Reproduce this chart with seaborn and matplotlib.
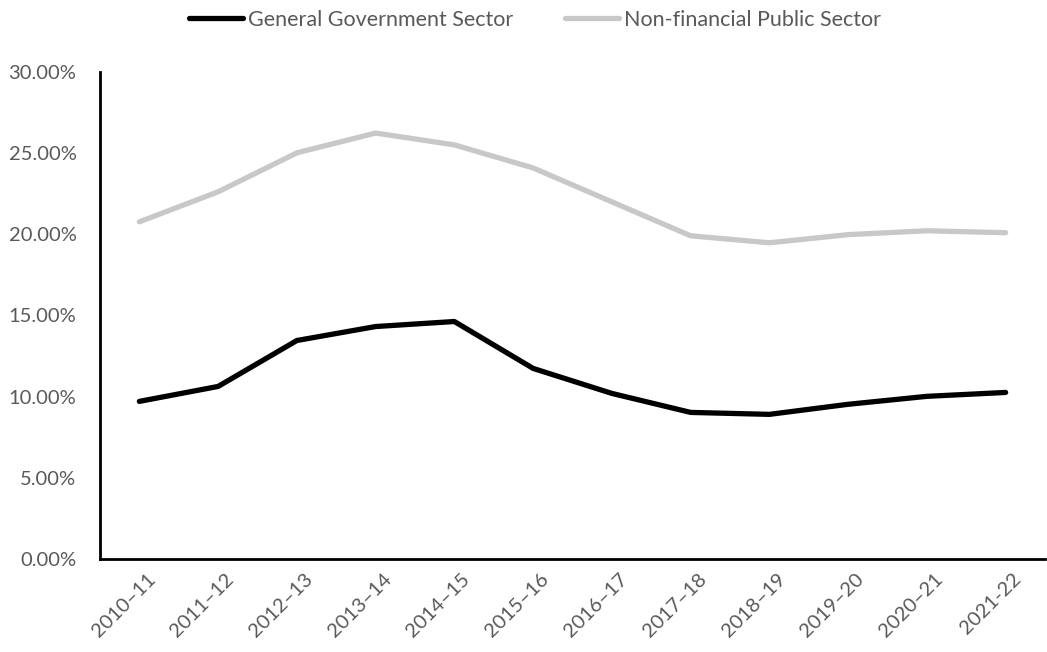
import matplotlib
matplotlib.use("Agg")
import matplotlib.pyplot as plt
import matplotlib.transforms as mtransforms
import seaborn as sns
import pandas as pd
from matplotlib.ticker import FuncFormatter

years = ["2010–11", "2011–12", "2012–13", "2013–14", "2014–15", "2015–16",
         "2016–17", "2017–18", "2018–19", "2019–20", "2020–21", "2021-22"]
general_gov = [9.71, 10.63, 13.46, 14.32, 14.63, 11.74, 10.20, 9.03, 8.91, 9.53, 10.02, 10.26]
non_fin_public = [20.77, 22.62, 25.02, 26.24, 25.51, 24.09, 22.00, 19.91, 19.48, 19.98, 20.22, 20.10]
series_names = ["General Government Sector", "Non-financial Public Sector"]

df = pd.DataFrame({
    "year": years * 2,
    "x": list(range(len(years))) * 2,
    "value": general_gov + non_fin_public,
    "series": [series_names[0]] * len(years) + [series_names[1]] * len(years),
})

sns.set_style("white")
plt.rcParams["font.family"] = ["Lato", "DejaVu Sans"]

fig = plt.figure(figsize=(10.47, 6.52), dpi=100)
ax = fig.add_axes([100 / 1047, 1 - 559 / 652, 945 / 1047, (559 - 72) / 652])

palette = {series_names[0]: "#000000", series_names[1]: "#C8C8C8"}
sns.lineplot(data=df, x="x", y="value", hue="series", palette=palette,
             linewidth=3.8, ax=ax, legend=True,
             solid_capstyle="round", solid_joinstyle="round")

ax.set_xlim(-0.5, len(years) - 0.5)
ax.set_ylim(0, 30)
ax.set_yticks([0, 5, 10, 15, 20, 25, 30])
ax.yaxis.set_major_formatter(FuncFormatter(lambda v, p: f"{v:.2f}%"))
ax.set_xticks(range(len(years)))
ax.set_xticklabels(years, rotation=45, ha="right", rotation_mode="anchor")
ax.tick_params(axis="both", labelsize=14.5, colors="#595959", length=0)
ax.tick_params(axis="x", pad=8)
ax.tick_params(axis="y", pad=17)
ax.set_xlabel("")
ax.set_ylabel("")

offset = mtransforms.ScaledTranslation(7 / 100, 0, fig.dpi_scale_trans)
for lbl in ax.get_xticklabels():
    lbl.set_transform(lbl.get_transform() + offset)

for s in ["top", "right"]:
    ax.spines[s].set_visible(False)
for s in ["left", "bottom"]:
    ax.spines[s].set_color("#000000")
    ax.spines[s].set_linewidth(2)

handles, labels = ax.get_legend_handles_labels()
ax.get_legend().remove()
fig.legend(handles, labels, loc="center", bbox_to_anchor=(535 / 1047, 1 - 20 / 652),
           ncol=2, frameon=False, fontsize=15.5, handlelength=2.5, handletextpad=0.25,
           columnspacing=2.4, labelcolor="#595959", borderaxespad=0, borderpad=0)

fig.savefig("out.png", dpi=100)
